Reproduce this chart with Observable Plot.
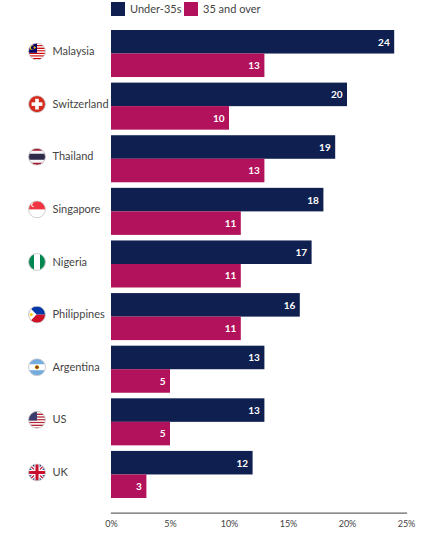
<!DOCTYPE html>
<html><head><meta charset="utf-8">
<script src="https://cdn.jsdelivr.net/npm/d3@7"></script>
<script src="https://cdn.jsdelivr.net/npm/@observablehq/plot@0.6"></script>
<style>
body{margin:0;background:#fff;font-family:Lato,"Open Sans",sans-serif;}
#legend{position:relative;height:22px;width:429px;}
.sw{position:absolute;top:2px;width:14px;height:14px;}
.lt{position:absolute;top:0px;font-size:11px;color:#444;line-height:18px;white-space:nowrap;}
#chart svg{display:block;}
</style></head><body>
<div id="legend"></div>
<div id="chart"></div>
<script>
const countries = ["Malaysia","Switzerland","Thailand","Singapore","Nigeria","Philippines","Argentina","US","UK"];
const under35 = [24,20,19,18,17,16,13,13,12];
const over35 = [13,10,13,11,11,11,5,5,3];
const seriesNames = ["Under-35s","35 and over"];
const seriesColors = ["#0f1f50","#b2115b"];
const xTicks = [0,5,10,15,20,25];

// --- flag icons (decorative) ---
function stripesH(cols, n){let s="",h=20/n;for(let i=0;i<n;i++)s+=`<rect x="0" y="${i*h}" width="20" height="${h+0.05}" fill="${cols[i%cols.length]}"/>`;return s;}
const flagBody = {
  "Malaysia": stripesH(["#cc0001","#ffffff"],14)+`<rect x="0" y="0" width="10" height="11.4" fill="#010066"/><circle cx="4.6" cy="5.7" r="2.6" fill="#fc0"/><circle cx="5.4" cy="5.7" r="2.2" fill="#010066"/><circle cx="7.4" cy="5.7" r="1.2" fill="#fc0"/>`,
  "Switzerland": `<rect width="20" height="20" fill="#d52b1e"/><rect x="8" y="4" width="4" height="12" fill="#fff"/><rect x="4" y="8" width="12" height="4" fill="#fff"/>`,
  "Thailand": `<rect width="20" height="20" fill="#a51931"/><rect y="3.33" width="20" height="13.34" fill="#f4f5f8"/><rect y="6.67" width="20" height="6.66" fill="#2d2a4a"/>`,
  "Singapore": `<rect width="20" height="20" fill="#fff"/><rect width="20" height="10" fill="#ef3340"/><circle cx="6" cy="5" r="2.6" fill="#fff"/><circle cx="7" cy="5" r="2.3" fill="#ef3340"/>`,
  "Nigeria": `<rect width="20" height="20" fill="#fff"/><rect width="6.67" height="20" fill="#008751"/><rect x="13.33" width="6.67" height="20" fill="#008751"/>`,
  "Philippines": `<rect width="20" height="10" fill="#0038a8"/><rect y="10" width="20" height="10" fill="#ce1126"/><polygon points="0,0 9.5,10 0,20" fill="#fff"/><circle cx="3.6" cy="10" r="1.8" fill="#fcd116"/>`,
  "Argentina": `<rect width="20" height="20" fill="#74acdf"/><rect y="6.67" width="20" height="6.66" fill="#fff"/><circle cx="10" cy="10" r="2.4" fill="#f6b40e"/><circle cx="10" cy="10" r="1.8" fill="#84451a"/>`,
  "US": stripesH(["#b22234","#ffffff"],13)+`<rect x="0" y="0" width="10" height="10.8" fill="#3c3b6e"/>`,
  "UK": `<rect width="20" height="20" fill="#012169"/><path d="M0,0L20,20M20,0L0,20" stroke="#fff" stroke-width="4"/><path d="M0,0L20,20M20,0L0,20" stroke="#c8102e" stroke-width="1.4"/><path d="M10,0V20M0,10H20" stroke="#fff" stroke-width="6"/><path d="M10,0V20M0,10H20" stroke="#c8102e" stroke-width="3.4"/>`
};
function flagSrc(c){
  const svg = `<svg xmlns="http://www.w3.org/2000/svg" viewBox="0 0 20 20" width="40" height="40"><defs><clipPath id="c"><circle cx="10" cy="10" r="9.3"/></clipPath></defs><g clip-path="url(#c)">${flagBody[c]}</g><circle cx="10" cy="10" r="9.4" fill="none" stroke="#c9c9c9" stroke-width="1"/></svg>`;
  return "data:image/svg+xml," + encodeURIComponent(svg);
}

const rows = countries.map((c,i)=>({country:c, under:under35[i], over:over35[i], flag:flagSrc(c)}));

// legend
const legend = document.getElementById("legend");
const swX = [111,184];
seriesNames.forEach((n,i)=>{
  const s=document.createElement("div");s.className="sw";s.style.left=swX[i]+"px";s.style.background=seriesColors[i];legend.appendChild(s);
  const t=document.createElement("div");t.className="lt";t.style.left=(swX[i]+19)+"px";t.textContent=n;legend.appendChild(t);
});

const chart = Plot.plot({
  width: 429, height: 520,
  marginLeft: 111, marginRight: 23, marginTop: 8, marginBottom: 29.3,
  style: {fontFamily: "Lato, 'Open Sans', sans-serif", background: "transparent", overflow: "visible"},
  x: {domain: [0,25], axis: null},
  y: {domain: countries, paddingInner: 0.106, paddingOuter: 0.14, align: 0, round: false, axis: null},
  marks: [
    Plot.barX(rows, {x: "under", y: "country", fill: seriesColors[0], insetBottom: 23.5}),
    Plot.barX(rows, {x: "over", y: "country", fill: seriesColors[1], insetTop: 23.5}),
    Plot.text(rows, {x: "under", y: "country", text: d => String(d.under), textAnchor: "end", dx: -5, dy: -11.5, fill: "#fff", fontWeight: 700, fontSize: 10}),
    Plot.text(rows, {x: "over", y: "country", text: d => String(d.over), textAnchor: "end", dx: -5, dy: 11.75, fill: "#fff", fontWeight: 700, fontSize: 10}),
    Plot.text(rows, {y: "country", text: "country", frameAnchor: "left", textAnchor: "start", dx: -59, dy: -2.5, fill: "#444", fontSize: 11}),
    Plot.image(rows, {y: "country", src: "flag", frameAnchor: "left", dx: -74.5, dy: -2.5, width: 18, height: 18}),
    Plot.frame({anchor: "bottom", stroke: "#666", strokeWidth: 1.3}),
    Plot.axisX({ticks: xTicks, tickFormat: d => d + "%", tickSize: 0, tickPadding: 7, fontSize: 9, fill: "#444"})
  ]
});
document.getElementById("chart").appendChild(chart);
</script>
</body></html>
